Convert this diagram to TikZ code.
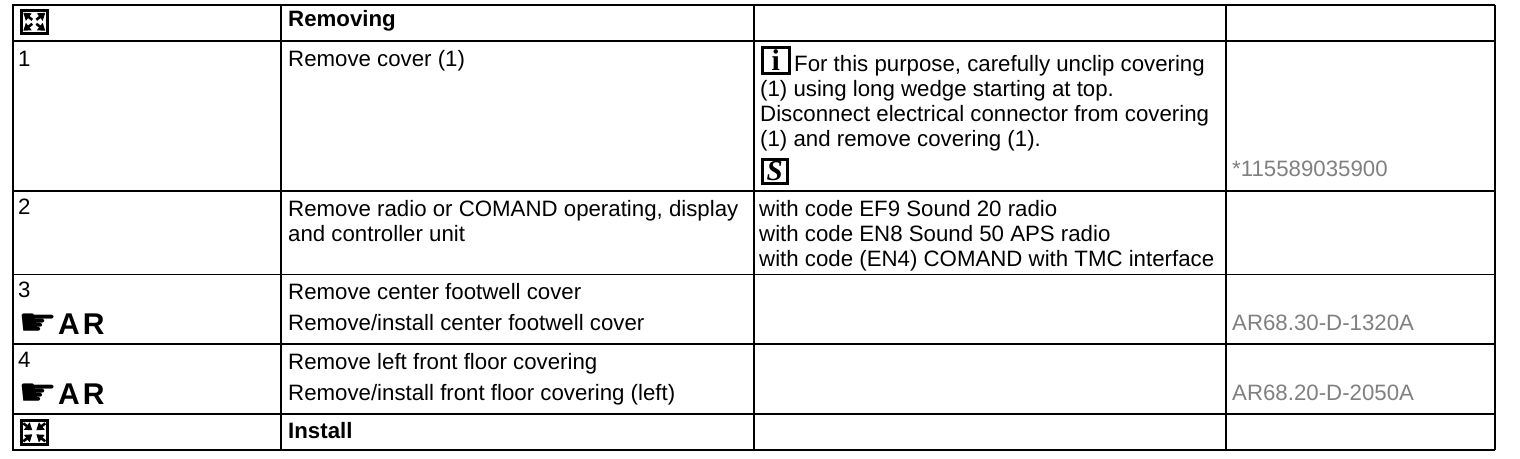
\documentclass[tikz,border=0pt]{standalone}
\usepackage{fontspec}
\setmainfont{Liberation Sans}
\newfontfamily\symbfont{DejaVu Sans}
\newfontfamily\serifbold{Liberation Serif}
\usetikzlibrary{arrows.meta}
\tikzset{
  rule/.style={black, line width=2pt},
  thinrule/.style={black, line width=1pt},
  cell/.style={anchor=base west, inner sep=0pt, font=\fontsize{22.25}{25}\selectfont},
  headcell/.style={cell, font=\fontsize{22.25}{25}\selectfont\bfseries},
  refcell/.style={cell, text=black!50},
  iconbox/.style={draw=black, line width=2.6pt, fill=white, inner sep=0pt, anchor=north west},
  iconarrow/.style={-{Triangle[length=7pt,width=9pt]}, line width=2.6pt},
  handmark/.style={anchor=base west, inner sep=0pt, xscale=1.15, transform shape, font=\fontsize{38}{38}\selectfont\symbfont},
  armark/.style={anchor=base west, inner sep=0pt, font=\fontsize{30}{30}\selectfont\bfseries},
}
\begin{document}
\begin{tikzpicture}[x=1pt, y=-1pt]
  \useasboundingbox (0,0) rectangle (1520,458);
  % rows
  \draw[rule] (12,5) -- (1495,5);
  \draw[rule] (12,41) -- (1495,41);
  \draw[rule] (12,190.5) -- (1495,190.5);
  \draw[thinrule] (12,274.5) -- (1495,274.5);
  \draw[rule] (12,343.5) -- (1495,343.5);
  \draw[rule] (12,414) -- (1495,414);
  \draw[rule] (12,450) -- (1495,450);
  % columns
  \draw[rule] (12.5,5) -- (12.5,450);
  \draw[rule] (281,5) -- (281,450);
  \draw[rule] (754,5) -- (754,450);
  \draw[rule] (1226,5) -- (1226,450);
  \draw[rule] (1495,5) -- (1495,450);
  % removing / install icons
  \node[iconbox, minimum width=26pt, minimum height=23pt] (outicon) at (20,9) {};
  \draw[iconarrow] (outicon.center) ++(-2,-2) -- ++(-9,-7);
  \draw[iconarrow] (outicon.center) ++(2,-2) -- ++(9,-7);
  \draw[iconarrow] (outicon.center) ++(-2,2) -- ++(-9,7);
  \draw[iconarrow] (outicon.center) ++(2,2) -- ++(9,7);
  \node[iconbox, minimum width=26pt, minimum height=24pt] (inicon) at (20,419) {};
  \draw[iconarrow] (inicon.center) ++(-11,-9) -- ++(9,7);
  \draw[iconarrow] (inicon.center) ++(11,-9) -- ++(-9,7);
  \draw[iconarrow] (inicon.center) ++(-11,9) -- ++(9,-7);
  \draw[iconarrow] (inicon.center) ++(11,9) -- ++(-9,-7);
  % first column
  \node[cell] (stepone) at (18,66) {1};
  \node[cell] (steptwo) at (18,214) {2};
  \node[cell] (stepthree) at (18,297) {3};
  \node[handmark] (handthree) at (18,335) {☛};
  \node[armark] (arthree) at (58,334) {A\kern3pt R};
  \node[cell] (stepfour) at (18,367) {4};
  \node[handmark] (handfour) at (18,405) {☛};
  \node[armark] (arfour) at (58,404) {A\kern3pt R};
  % second column
  \node[headcell] (removing) at (288,26) {Removing};
  \node[cell] (cover) at (288,66) {Remove cover (1)};
  \node[cell] (radioa) at (288,216) {Remove radio or COMAND operating, display};
  \node[cell] (radiob) at (288,241) {and controller unit};
  \node[cell] (foota) at (288,299) {Remove center footwell cover};
  \node[cell] (footb) at (288,330) {Remove/install center footwell cover};
  \node[cell] (floora) at (288,369) {Remove left front floor covering};
  \node[cell] (floorb) at (288,400) {Remove/install front floor covering (left)};
  \node[headcell] (install) at (288,438) {Install};
  % third column
  \node[iconbox, minimum width=27pt, minimum height=26pt, font=\fontsize{30}{30}\selectfont\serifbold\bfseries] (infoicon) at (761,46) {i};
  \node[cell] (infoa) at (794,71) {For this purpose, carefully unclip covering};
  \node[cell] (infob) at (760,96) {(1) using long wedge starting at top.};
  \node[cell] (infoc) at (760,121) {Disconnect electrical connector from covering};
  \node[cell] (infod) at (760,146) {(1) and remove covering (1).};
  \node[iconbox, minimum width=25pt, minimum height=24pt, font=\fontsize{29}{29}\selectfont\serifbold\bfseries\itshape] (toolicon) at (761,158) {S};
  \node[cell] (codea) at (759,216) {with code EF9 Sound 20 radio};
  \node[cell] (codeb) at (759,241) {with code EN8 Sound 50 APS radio};
  \node[cell] (codec) at (759,266) {with code (EN4) COMAND with TMC interface};
  % fourth column
  \node[refcell] (toolno) at (1232,176) {*115589035900};
  \node[refcell] (refthree) at (1232,330) {AR68.30-D-1320A};
  \node[refcell] (reffour) at (1232,400) {AR68.20-D-2050A};
\end{tikzpicture}
\end{document}
